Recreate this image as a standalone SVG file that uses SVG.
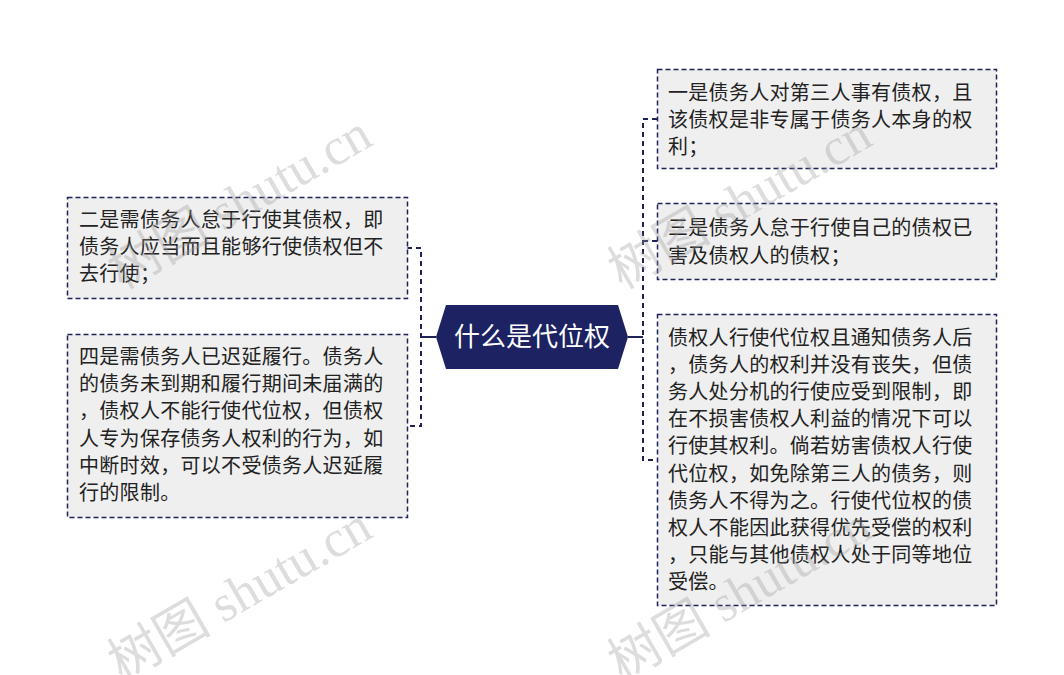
<svg xmlns="http://www.w3.org/2000/svg" width="1064" height="675" viewBox="0 0 1064 675">
<style>
.box{fill:#efefef;stroke:#1e2259;stroke-width:1.5;stroke-dasharray:5,3}
.t{font-family:"Noto Sans CJK SC","Noto Sans",sans-serif;font-size:20px;letter-spacing:0.3px;fill:#222}
.c{fill:none;stroke:#1e2259;stroke-width:2}
.d{stroke-dasharray:5,4}
.wm{font-size:52px;fill:#999;opacity:0.33}
</style>
<rect width="1064" height="675" fill="#ffffff"/>
<g id="connectors">
<path class="c" d="M436 337 H421 M628 337 H643"/>
<path class="c d" d="M407 248 H421 V426 H407"/>
<path class="c d" d="M657 119 H643 V460 H657 M643 241 H657"/>
</g>
<g id="center">
<polygon points="436,337 446,305 618,305 628,337 618,369 446,369" fill="#1c2262"/>
<text x="532" y="346" text-anchor="middle" font-family="'Noto Sans CJK SC',sans-serif" font-size="26" fill="#ffffff">什么是代位权</text>
</g>
<g id="node-left1">
<rect class="box" x="67.5" y="197.5" width="340" height="101"/>
<text class="t"><tspan x="79" y="227">二是需债务人怠于行使其债权，即</tspan><tspan x="79" y="254">债务人应当而且能够行使债权但不</tspan><tspan x="79" y="281">去行使；</tspan></text>
</g>
<g id="node-left2">
<rect class="box" x="67.5" y="334.5" width="340" height="183"/>
<text class="t"><tspan x="79" y="364">四是需债务人已迟延履行。债务人</tspan><tspan x="79" y="391">的债务未到期和履行期间未届满的</tspan><tspan x="79" y="418">，债权人不能行使代位权，但债权</tspan><tspan x="79" y="446">人专为保存债务人权利的行为，如</tspan><tspan x="79" y="473">中断时效，可以不受债务人迟延履</tspan><tspan x="79" y="500">行的限制。</tspan></text>
</g>
<g id="node-right1">
<rect class="box" x="657.5" y="69.5" width="339" height="99"/>
<text class="t"><tspan x="668" y="100">一是债务人对第三人事有债权，且</tspan><tspan x="668" y="127">该债权是非专属于债务人本身的权</tspan><tspan x="668" y="154">利；</tspan></text>
</g>
<g id="node-right2">
<rect class="box" x="657.5" y="203.5" width="339" height="76"/>
<text class="t"><tspan x="668" y="235">三是债务人怠于行使自己的债权已</tspan><tspan x="668" y="263">害及债权人的债权；</tspan></text>
</g>
<g id="node-right3">
<rect class="box" x="657.5" y="314.5" width="339" height="291"/>
<text class="t"><tspan x="668" y="345">债权人行使代位权且通知债务人后</tspan><tspan x="668" y="372">，债务人的权利并没有丧失，但债</tspan><tspan x="668" y="399">务人处分机的行使应受到限制，即</tspan><tspan x="668" y="426">在不损害债权人利益的情况下可以</tspan><tspan x="668" y="453">行使其权利。倘若妨害债权人行使</tspan><tspan x="668" y="481">代位权，如免除第三人的债务，则</tspan><tspan x="668" y="508">债务人不得为之。行使代位权的债</tspan><tspan x="668" y="535">权人不能因此获得优先受偿的权利</tspan><tspan x="668" y="562">，只能与其他债权人处于同等地位</tspan><tspan x="668" y="589">受偿。</tspan></text>
</g>
<g id="watermarks">
<text class="wm" transform="translate(122,290) rotate(-30)"><tspan font-family="'Noto Sans CJK SC',sans-serif">树图</tspan><tspan font-family="'Liberation Serif',serif"> shutu.cn</tspan></text>
<text class="wm" transform="translate(622,290) rotate(-30)"><tspan font-family="'Noto Sans CJK SC',sans-serif">树图</tspan><tspan font-family="'Liberation Serif',serif"> shutu.cn</tspan></text>
<text class="wm" transform="translate(122,682) rotate(-30)"><tspan font-family="'Noto Sans CJK SC',sans-serif">树图</tspan><tspan font-family="'Liberation Serif',serif"> shutu.cn</tspan></text>
<text class="wm" transform="translate(622,682) rotate(-30)"><tspan font-family="'Noto Sans CJK SC',sans-serif">树图</tspan><tspan font-family="'Liberation Serif',serif"> shutu.cn</tspan></text>
</g>
</svg>
